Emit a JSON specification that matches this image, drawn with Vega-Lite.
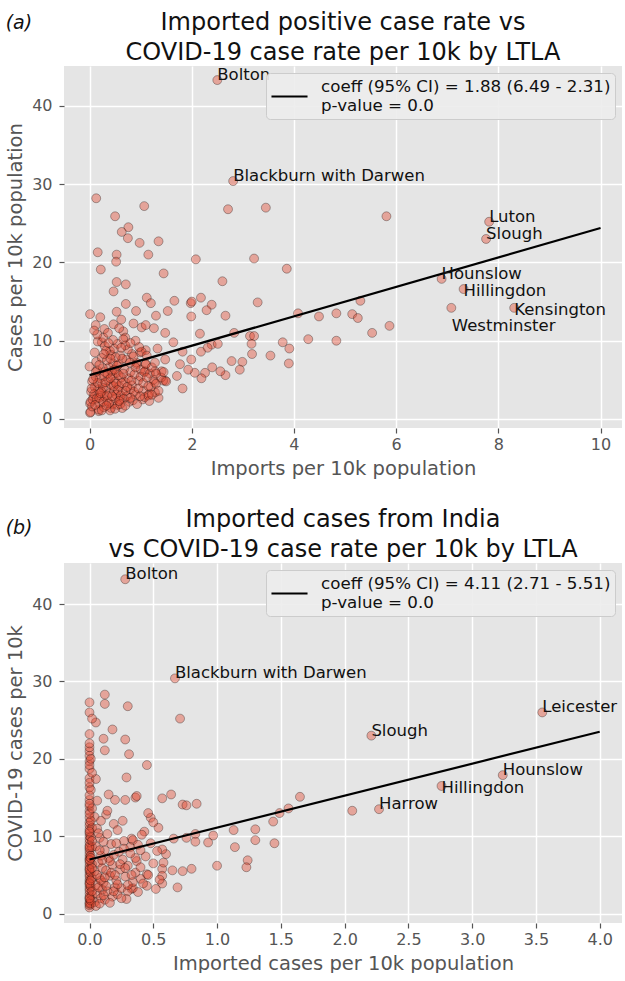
{
  "$schema": "https://vega.github.io/schema/vega-lite/v6.json",
  "padding": {"left": 5, "top": 11, "right": 0, "bottom": 0},
  "background": "white",
  "config": {
    "font": "DejaVu Sans",
    "view": {"fill": "#E5E5E5", "stroke": null},
    "axis": {"domain": false, "grid": true, "gridColor": "#FFFFFF", "gridWidth": 1.5, "gridOpacity": 1, "tickColor": "#555555", "tickSize": 5, "tickWidth": 1.2, "labelColor": "#555555", "labelFontSize": 16, "labelFont": "DejaVu Sans", "titleColor": "#555555", "titleFontSize": 19.5, "titleFontWeight": "normal", "titleFont": "DejaVu Sans", "labelFlush": false},
    "axisX": {"labelPadding": 3, "titlePadding": 7},
    "axisY": {"labelPadding": 7, "titlePadding": 6},
    "title": {"font": "DejaVu Sans", "fontSize": 24, "fontWeight": "normal", "color": "#111111", "lineHeight": 30, "offset": 1},
    "concat": {"spacing": 30}
  },
  "resolve": {"scale": {"color": "independent"}, "legend": {"color": "independent"}},
  "datasets": {
    "ptsA": [
      {"x":2.5,"y":43.3},{"x":2.81,"y":30.4},{"x":7.82,"y":25.2},{"x":7.76,"y":23.0},{"x":6.89,"y":17.9},{"x":7.32,"y":16.6},{"x":8.31,"y":14.2},{"x":7.08,"y":14.2},
      {"x":5.81,"y":25.9},{"x":4.49,"y":13.1},{"x":4.83,"y":13.5},{"x":5.14,"y":13.4},{"x":5.25,"y":12.9},{"x":5.3,"y":15.1},{"x":5.53,"y":11.0},{"x":5.87,"y":11.9},{"x":4.28,"y":10.2},{"x":4.83,"y":10.0},{"x":4.08,"y":13.5},
      {"x":0.13,"y":28.2},{"x":1.07,"y":27.2},{"x":0.5,"y":25.9},{"x":2.71,"y":26.8},{"x":3.45,"y":27.0},{"x":0.76,"y":24.5},{"x":0.63,"y":23.9},{"x":0.75,"y":23.1},{"x":0.98,"y":22.5},{"x":1.35,"y":22.7},
      {"x":0.16,"y":21.3},{"x":0.53,"y":21.0},{"x":1.15,"y":21.0},{"x":0.52,"y":20.1},{"x":0.22,"y":19.1},{"x":2.08,"y":20.4},{"x":3.22,"y":20.5},{"x":3.86,"y":19.2},{"x":1.45,"y":18.6},{"x":0.53,"y":17.5},
      {"x":0.71,"y":17.2},{"x":2.6,"y":17.6},{"x":0.47,"y":16.3},{"x":1.12,"y":15.5},{"x":1.2,"y":14.8},{"x":1.66,"y":15.1},{"x":1.98,"y":14.8},{"x":2.0,"y":15.0},{"x":2.18,"y":15.5},{"x":2.39,"y":14.6},
      {"x":2.29,"y":13.9},{"x":3.29,"y":14.9},{"x":0.71,"y":14.7},{"x":0.53,"y":13.7},{"x":0.91,"y":13.8},{"x":1.3,"y":13.2},{"x":1.53,"y":13.8},{"x":0.01,"y":13.4},{"x":0.21,"y":13.0},{"x":1.99,"y":13.1},
      {"x":2.66,"y":13.2},{"x":0.12,"y":12.0},{"x":0.29,"y":11.5},{"x":0.47,"y":12.1},{"x":0.86,"y":12.2},{"x":1.02,"y":11.7},{"x":1.1,"y":12.0},{"x":1.26,"y":11.6},{"x":1.48,"y":11.0},{"x":1.64,"y":9.8},
      {"x":2.16,"y":10.9},{"x":2.83,"y":11.0},{"x":3.14,"y":10.6},{"x":3.22,"y":10.6},{"x":3.17,"y":9.6},{"x":3.78,"y":9.8},{"x":3.91,"y":9.0},{"x":2.39,"y":9.5},{"x":2.51,"y":9.6},{"x":2.31,"y":9.1},
      {"x":1.82,"y":8.6},{"x":2.18,"y":8.6},{"x":3.18,"y":8.3},{"x":3.54,"y":8.1},{"x":2.78,"y":7.4},{"x":2.99,"y":7.3},{"x":3.9,"y":7.1},{"x":2.94,"y":6.3},{"x":2.66,"y":5.6},{"x":2.56,"y":6.1},
      {"x":2.4,"y":6.6},{"x":2.26,"y":5.9},{"x":2.19,"y":5.2},{"x":2.06,"y":5.9},{"x":1.99,"y":7.6},{"x":1.82,"y":3.9},{"x":1.93,"y":6.3},{"x":1.71,"y":5.5},{"x":1.77,"y":7.0},{"x":1.48,"y":7.6},
      {"x":1.35,"y":2.7},{"x":1.28,"y":3.4},{"x":1.48,"y":4.9},{"x":1.41,"y":6.1},{"x":0.0,"y":6.7},{"x":0.01,"y":1.96},{"x":0.01,"y":0.8},{"x":0.18,"y":1.0},{"x":0.42,"y":1.4},{"x":1.04,"y":2.5},
      {"x":1.17,"y":3.2},{"x":0.24,"y":9.8},{"x":0.66,"y":11.2},{"x":0.7,"y":10.4},{"x":0.4,"y":8.7},{"x":0.83,"y":8.3},{"x":0.99,"y":8.5},{"x":1.1,"y":8.8},{"x":0.92,"y":7.0},{"x":1.1,"y":7.0},
      {"x":1.09,"y":6.1},{"x":1.28,"y":6.1},{"x":1.44,"y":4.9},{"x":1.27,"y":4.7},
      {"x":0.02,"y":0.9},{"x":0.05,"y":1.6},{"x":0.02,"y":2.2},{"x":0.08,"y":2.8},{"x":0.03,"y":3.5},{"x":0.1,"y":4.1},{"x":0.05,"y":4.8},{"x":0.12,"y":5.4},{"x":0.15,"y":6.2},{"x":0.18,"y":1.2},
      {"x":0.2,"y":2.0},{"x":0.22,"y":3.0},{"x":0.17,"y":3.8},{"x":0.25,"y":4.5},{"x":0.2,"y":5.2},{"x":0.13,"y":7.3},{"x":0.24,"y":7.8},{"x":0.1,"y":8.5},{"x":0.3,"y":9.3},{"x":0.16,"y":9.9},
      {"x":0.28,"y":1.5},{"x":0.35,"y":2.3},{"x":0.3,"y":2.9},{"x":0.4,"y":3.3},{"x":0.33,"y":3.9},{"x":0.42,"y":4.4},{"x":0.37,"y":5.0},{"x":0.45,"y":5.6},{"x":0.3,"y":6.0},{"x":0.38,"y":6.6},
      {"x":0.46,"y":7.1},{"x":0.34,"y":7.5},{"x":0.42,"y":8.2},{"x":0.48,"y":9.0},{"x":0.27,"y":10.4},{"x":0.36,"y":11.0},{"x":0.45,"y":1.9},{"x":0.5,"y":2.6},{"x":0.48,"y":3.6},{"x":0.26,"y":4.0},
      {"x":0.29,"y":5.5},{"x":0.44,"y":6.1},{"x":0.4,"y":1.1},{"x":0.32,"y":8.7},{"x":0.5,"y":4.8},
      {"x":0.55,"y":1.8},{"x":0.6,"y":2.5},{"x":0.52,"y":3.1},{"x":0.65,"y":3.5},{"x":0.58,"y":4.2},{"x":0.7,"y":4.7},{"x":0.62,"y":5.3},{"x":0.53,"y":5.9},{"x":0.68,"y":6.4},{"x":0.57,"y":7.0},
      {"x":0.72,"y":7.6},{"x":0.6,"y":8.1},{"x":0.75,"y":8.9},{"x":0.55,"y":9.6},{"x":0.66,"y":10.2},{"x":0.78,"y":2.2},{"x":0.73,"y":2.9},{"x":0.8,"y":3.8},{"x":0.76,"y":5.2},{"x":0.8,"y":6.0},
      {"x":0.64,"y":1.4},{"x":0.7,"y":9.4},{"x":0.58,"y":11.6},{"x":0.62,"y":12.7},
      {"x":0.85,"y":2.4},{"x":0.9,"y":3.1},{"x":0.83,"y":4.3},{"x":0.95,"y":4.9},{"x":0.88,"y":5.7},{"x":1.0,"y":6.3},{"x":0.92,"y":7.2},{"x":0.86,"y":8.0},{"x":1.02,"y":8.6},{"x":0.97,"y":9.2},
      {"x":1.05,"y":3.6},{"x":1.08,"y":2.8},{"x":1.0,"y":5.4},{"x":0.9,"y":10.0},{"x":1.1,"y":7.0},{"x":1.07,"y":6.0},{"x":0.93,"y":1.9},
      {"x":1.15,"y":3.0},{"x":1.2,"y":4.1},{"x":1.25,"y":5.0},{"x":1.18,"y":5.8},{"x":1.3,"y":4.5},{"x":1.35,"y":3.6},{"x":1.22,"y":6.6},{"x":1.4,"y":5.3},{"x":1.28,"y":7.2},{"x":1.45,"y":6.0},
      {"x":1.12,"y":8.1},{"x":1.33,"y":9.0},{"x":1.5,"y":4.8},{"x":1.17,"y":2.3},
      {"x":0.06,"y":2.5},{"x":0.09,"y":3.2},{"x":0.14,"y":2.6},{"x":0.11,"y":1.8},{"x":0.19,"y":2.7},{"x":0.23,"y":3.5},{"x":0.27,"y":2.2},{"x":0.16,"y":4.6},{"x":0.21,"y":3.3},{"x":0.31,"y":4.7},
      {"x":0.34,"y":3.0},{"x":0.38,"y":2.0},{"x":0.26,"y":6.5},{"x":0.19,"y":6.9},{"x":0.35,"y":5.8},{"x":0.41,"y":5.2},{"x":0.47,"y":4.2},{"x":0.52,"y":4.5},{"x":0.56,"y":3.7},{"x":0.61,"y":3.0},
      {"x":0.67,"y":2.6},{"x":0.71,"y":3.6},{"x":0.63,"y":4.6},{"x":0.57,"y":5.6},{"x":0.49,"y":6.3},{"x":0.54,"y":6.8},{"x":0.66,"y":5.8},{"x":0.74,"y":4.1},{"x":0.82,"y":4.9},{"x":0.87,"y":3.5},
      {"x":0.96,"y":3.9},{"x":0.9,"y":6.6},{"x":0.79,"y":7.2},{"x":0.64,"y":7.7},{"x":0.51,"y":7.9},{"x":0.41,"y":7.7},{"x":0.28,"y":8.3},{"x":0.12,"y":6.0},{"x":0.07,"y":5.1},{"x":0.04,"y":3.9},
      {"x":0.24,"y":1.1},{"x":0.33,"y":1.7},{"x":0.5,"y":1.3},{"x":0.6,"y":1.9},{"x":0.7,"y":1.7},{"x":0.8,"y":2.7},{"x":0.99,"y":2.9},{"x":1.05,"y":4.6},{"x":1.12,"y":5.3},{"x":1.15,"y":4.2},
      {"x":1.22,"y":3.1},{"x":1.3,"y":5.8},{"x":0.46,"y":10.1},{"x":0.37,"y":9.7},{"x":0.62,"y":9.1},{"x":0.8,"y":9.7},{"x":0.15,"y":10.8},{"x":0.09,"y":11.3},{"x":0.44,"y":2.9},{"x":0.58,"y":2.3}
    ],
    "lineA": [
      {"x":0,"y":5.6,"fit":"coeff (95% CI) = 1.88 (6.49 - 2.31)|\u00a0p-value = 0.0"},
      {"x":10,"y":24.4,"fit":"coeff (95% CI) = 1.88 (6.49 - 2.31)|\u00a0p-value = 0.0"}
    ],
    "labA": [
      {"x":2.5,"y":43.3,"label":"Bolton"},
      {"x":2.81,"y":30.4,"label":"Blackburn with Darwen"},
      {"x":7.82,"y":25.2,"label":"Luton"},
      {"x":7.76,"y":23.0,"label":"Slough"},
      {"x":6.89,"y":17.9,"label":"Hounslow"},
      {"x":7.32,"y":15.7,"label":"Hillingdon"},
      {"x":8.31,"y":13.3,"label":"Kensington"},
      {"x":7.09,"y":11.25,"label":"Westminster"}
    ],
    "ptsB": [
      {"x":0.28,"y":43.2},{"x":0.67,"y":30.4},{"x":3.55,"y":26.0},{"x":2.21,"y":23.0},{"x":3.24,"y":17.9},{"x":2.76,"y":16.5},{"x":2.27,"y":13.5},
      {"x":2.06,"y":13.3},{"x":1.65,"y":15.1},{"x":1.56,"y":13.6},{"x":1.49,"y":13.0},{"x":1.44,"y":11.9},{"x":1.3,"y":10.9},{"x":1.3,"y":9.5},{"x":1.13,"y":10.8},{"x":0.97,"y":10.1},
      {"x":0.93,"y":9.2},{"x":0.83,"y":10.3},{"x":0.83,"y":9.3},{"x":0.76,"y":9.8},{"x":0.66,"y":9.7},{"x":1.14,"y":8.6},{"x":1.45,"y":9.1},{"x":1.24,"y":6.9},{"x":1.23,"y":6.0},{"x":1.0,"y":6.2},
      {"x":0.8,"y":5.8},{"x":0.73,"y":5.5},{"x":0.65,"y":5.6},{"x":0.57,"y":5.8},{"x":0.57,"y":4.9},{"x":0.57,"y":3.9},{"x":0.69,"y":3.4},{"x":0.6,"y":7.7},{"x":0.57,"y":8.3},{"x":0.54,"y":11.1},
      {"x":0.48,"y":12.4},{"x":0.5,"y":11.8},{"x":0.46,"y":13.0},{"x":0.43,"y":10.6},{"x":0.33,"y":9.7},{"x":0.34,"y":9.5},{"x":0.37,"y":6.8},{"x":0.45,"y":5.1},{"x":0.33,"y":3.2},{"x":0.34,"y":3.3},
      {"x":0.45,"y":3.6},{"x":0.4,"y":4.5},
      {"x":0.12,"y":28.3},{"x":0.12,"y":27.1},{"x":0.3,"y":26.8},{"x":0.71,"y":25.2},{"x":0.18,"y":23.8},{"x":0.11,"y":22.6},{"x":0.28,"y":22.5},{"x":0.12,"y":21.1},{"x":0.31,"y":20.6},{"x":0.45,"y":19.2},
      {"x":0.29,"y":17.6},{"x":0.15,"y":15.4},{"x":0.2,"y":14.7},{"x":0.28,"y":14.7},{"x":0.36,"y":15.0},{"x":0.37,"y":15.2},{"x":0.57,"y":14.9},{"x":0.64,"y":15.4},{"x":0.73,"y":14.1},{"x":0.76,"y":14.0},
      {"x":0.84,"y":14.2},
      {"x":0,"y":0.8},{"x":0,"y":1.1},{"x":0,"y":1.5},{"x":0,"y":1.9},{"x":0,"y":2.2},{"x":0,"y":2.6},{"x":0,"y":3.0},{"x":0,"y":3.3},{"x":0,"y":3.7},{"x":0,"y":4.1},
      {"x":0,"y":4.4},{"x":0,"y":4.8},{"x":0,"y":5.1},{"x":0,"y":5.5},{"x":0,"y":5.9},{"x":0,"y":6.2},{"x":0,"y":6.6},{"x":0,"y":7.0},{"x":0,"y":7.3},{"x":0,"y":7.7},
      {"x":0,"y":8.1},{"x":0,"y":8.4},{"x":0,"y":8.8},{"x":0,"y":9.2},{"x":0,"y":9.6},{"x":0,"y":10.0},{"x":0,"y":10.4},{"x":0,"y":10.9},{"x":0,"y":11.4},{"x":0,"y":11.8},
      {"x":0,"y":12.4},{"x":0,"y":13.3},{"x":0,"y":13.9},{"x":0,"y":14.7},{"x":0,"y":15.3},{"x":0,"y":16.3},{"x":0,"y":17.5},{"x":0,"y":18.7},{"x":0,"y":19.7},{"x":0,"y":20.4},
      {"x":0,"y":21.0},{"x":0,"y":21.5},{"x":0,"y":23.2},{"x":0,"y":26.0},{"x":0,"y":27.3},
      {"x":0.01,"y":1.3},{"x":0.02,"y":2.4},{"x":0.01,"y":3.5},{"x":0.02,"y":4.6},{"x":0.01,"y":5.3},{"x":0.02,"y":6.4},{"x":0.01,"y":7.5},{"x":0.02,"y":8.6},{"x":0.01,"y":9.9},{"x":0.02,"y":11.1},
      {"x":0.04,"y":1.5},{"x":0.06,"y":2.6},{"x":0.05,"y":3.7},{"x":0.08,"y":4.6},{"x":0.04,"y":5.5},{"x":0.07,"y":6.6},{"x":0.09,"y":7.5},{"x":0.05,"y":8.7},{"x":0.08,"y":9.8},{"x":0.06,"y":11.0},
      {"x":0.04,"y":12.5},{"x":0.1,"y":3.1},{"x":0.1,"y":5.9},{"x":0.09,"y":2.0},{"x":0.05,"y":24.7},{"x":0.05,"y":17.4},{"x":0.06,"y":14.6},
      {"x":0.12,"y":1.8},{"x":0.14,"y":2.9},{"x":0.11,"y":4.0},{"x":0.16,"y":4.9},{"x":0.13,"y":5.6},{"x":0.18,"y":6.3},{"x":0.15,"y":7.2},{"x":0.12,"y":8.2},{"x":0.17,"y":9.0},{"x":0.14,"y":10.3},
      {"x":0.19,"y":11.6},{"x":0.2,"y":3.4},{"x":0.18,"y":2.2},{"x":0.13,"y":12.8},{"x":0.16,"y":6.8},
      {"x":0.22,"y":2.5},{"x":0.25,"y":3.3},{"x":0.21,"y":4.3},{"x":0.28,"y":4.8},{"x":0.24,"y":5.7},{"x":0.3,"y":6.2},{"x":0.26,"y":7.0},{"x":0.23,"y":8.0},{"x":0.32,"y":8.6},{"x":0.27,"y":9.4},
      {"x":0.22,"y":10.8},{"x":0.3,"y":2.9},{"x":0.34,"y":4.1},{"x":0.26,"y":12.0},{"x":0.29,"y":1.9},
      {"x":0.38,"y":2.8},{"x":0.42,"y":3.9},{"x":0.36,"y":5.3},{"x":0.46,"y":5.0},{"x":0.4,"y":6.0},{"x":0.5,"y":6.5},{"x":0.44,"y":7.4},{"x":0.53,"y":8.1},{"x":0.38,"y":8.9},{"x":0.48,"y":9.1},
      {"x":0.55,"y":4.4},{"x":0.52,"y":3.2},{"x":0.41,"y":10.2},{"x":0.58,"y":6.6},
      {"x":0,"y":1.3},{"x":0.01,"y":1.7},{"x":0,"y":2.0},{"x":0.02,"y":2.9},{"x":0,"y":3.9},{"x":0.01,"y":4.3},{"x":0,"y":5.7},{"x":0.02,"y":5.9},{"x":0,"y":6.9},{"x":0.01,"y":7.2},
      {"x":0,"y":8.6},{"x":0.02,"y":9.4},{"x":0,"y":10.6},{"x":0.01,"y":12.0},{"x":0,"y":12.9},{"x":0.02,"y":13.6},{"x":0,"y":14.2},{"x":0.01,"y":16.0},{"x":0,"y":16.9},{"x":0.02,"y":18.2},
      {"x":0,"y":19.2},{"x":0.01,"y":20.0},{"x":0,"y":22.0},{"x":0.02,"y":25.2},
      {"x":0.05,"y":1.0},{"x":0.08,"y":1.3},{"x":0.11,"y":2.4},{"x":0.07,"y":3.4},{"x":0.13,"y":3.6},{"x":0.09,"y":4.3},{"x":0.06,"y":5.0},{"x":0.12,"y":4.7},{"x":0.1,"y":6.9},{"x":0.08,"y":8.2},
      {"x":0.11,"y":9.3},{"x":0.07,"y":10.4},{"x":0.16,"y":1.4},{"x":0.19,"y":2.9},{"x":0.22,"y":3.8},{"x":0.17,"y":5.3},{"x":0.2,"y":5.0},{"x":0.24,"y":6.4},{"x":0.19,"y":7.6},{"x":0.27,"y":8.4},
      {"x":0.21,"y":9.1},{"x":0.25,"y":2.0},{"x":0.3,"y":3.7},{"x":0.33,"y":5.0},{"x":0.28,"y":5.9},{"x":0.36,"y":7.2},{"x":0.32,"y":7.8},{"x":0.4,"y":8.2},{"x":0.14,"y":13.3},{"x":0.09,"y":12.0}
    ],
    "lineB": [
      {"x":0,"y":7.0,"fit":"coeff (95% CI) = 4.11 (2.71 - 5.51)|\u00a0p-value = 0.0"},
      {"x":4,"y":23.5,"fit":"coeff (95% CI) = 4.11 (2.71 - 5.51)|\u00a0p-value = 0.0"}
    ],
    "labB": [
      {"x":0.28,"y":43.2,"label":"Bolton"},
      {"x":0.67,"y":30.4,"label":"Blackburn with Darwen"},
      {"x":3.55,"y":26.0,"label":"Leicester"},
      {"x":2.21,"y":23.0,"label":"Slough"},
      {"x":3.24,"y":17.9,"label":"Hounslow"},
      {"x":2.76,"y":15.6,"label":"Hillingdon"},
      {"x":2.27,"y":13.5,"label":"Harrow"}
    ]
  },
  "vconcat": [
    {
      "title": {"text": "(a)", "anchor": "start", "frame": "bounds", "fontSize": 19, "fontStyle": "italic", "color": "#111111", "dy": 23},
      "resolve": {"scale": {"color": "independent"}, "legend": {"color": "independent"}},
      "vconcat": [
        {
          "width": 558,
          "height": 362,
          "title": {"text": ["Imported positive case rate vs", "COVID-19 case rate per 10k by LTLA"]},
          "layer": [
            {
              "data": {"name": "ptsA"},
              "mark": {"type": "circle", "size": 80, "fill": "#E24A33", "fillOpacity": 0.42, "stroke": "#000000", "strokeOpacity": 0.3, "strokeWidth": 1},
              "encoding": {
                "x": {"field": "x", "type": "quantitative", "scale": {"domain": [-0.5, 10.42], "nice": false, "zero": false}, "axis": {"values": [0, 2, 4, 6, 8, 10], "title": "Imports per 10k population"}},
                "y": {"field": "y", "type": "quantitative", "scale": {"domain": [-1.15, 45.1], "nice": false, "zero": false}, "axis": {"values": [0, 10, 20, 30, 40], "title": "Cases per 10k population"}}
              }
            },
            {
              "data": {"name": "lineA"},
              "mark": {"type": "line", "strokeWidth": 2.2},
              "encoding": {
                "x": {"field": "x", "type": "quantitative"},
                "y": {"field": "y", "type": "quantitative"},
                "color": {"field": "fit", "type": "nominal", "scale": {"range": ["#000000"]},
                  "legend": {"title": null, "orient": "top-right", "offset": 7, "labelExpr": "split(datum.label, '|')", "symbolType": "stroke", "symbolSize": 1300, "symbolStrokeWidth": 2.2, "symbolStrokeColor": "#000000", "labelFontSize": 16.7, "labelFont": "DejaVu Sans", "labelColor": "#111111", "labelLimit": 0, "labelOffset": 12, "fillColor": "rgba(236,236,236,0.9)", "strokeColor": "#CCCCCC", "cornerRadius": 4, "padding": 4,
                    "encode": {"labels": {"update": {"dy": {"value": -9.25}, "lineHeight": {"value": 18.5}}}}}}
              }
            },
            {
              "data": {"name": "labA"},
              "mark": {"type": "text", "align": "left", "baseline": "alphabetic", "fontSize": 16.5, "font": "DejaVu Sans", "color": "#111111"},
              "encoding": {
                "x": {"field": "x", "type": "quantitative"},
                "y": {"field": "y", "type": "quantitative"},
                "text": {"field": "label"}
              }
            }
          ]
        }
      ]
    },
    {
      "title": {"text": "(b)", "anchor": "start", "frame": "bounds", "fontSize": 19, "fontStyle": "italic", "color": "#111111", "dy": 31},
      "resolve": {"scale": {"color": "independent"}, "legend": {"color": "independent"}},
      "vconcat": [
        {
          "width": 558,
          "height": 360,
          "title": {"text": ["Imported cases from India", "vs COVID-19 case rate per 10k by LTLA"]},
          "layer": [
            {
              "data": {"name": "ptsB"},
              "mark": {"type": "circle", "size": 80, "fill": "#E24A33", "fillOpacity": 0.42, "stroke": "#000000", "strokeOpacity": 0.3, "strokeWidth": 1},
              "encoding": {
                "x": {"field": "x", "type": "quantitative", "scale": {"domain": [-0.2, 4.175], "nice": false, "zero": false}, "axis": {"values": [0, 0.5, 1, 1.5, 2, 2.5, 3, 3.5, 4], "format": ".1f", "title": "Imported cases per 10k population"}},
                "y": {"field": "y", "type": "quantitative", "scale": {"domain": [-1.2, 45.3], "nice": false, "zero": false}, "axis": {"values": [0, 10, 20, 30, 40], "title": "COVID-19 cases per 10k"}}
              }
            },
            {
              "data": {"name": "lineB"},
              "mark": {"type": "line", "strokeWidth": 2.2},
              "encoding": {
                "x": {"field": "x", "type": "quantitative"},
                "y": {"field": "y", "type": "quantitative"},
                "color": {"field": "fit", "type": "nominal", "scale": {"range": ["#000000"]},
                  "legend": {"title": null, "orient": "top-right", "offset": 7, "labelExpr": "split(datum.label, '|')", "symbolType": "stroke", "symbolSize": 1300, "symbolStrokeWidth": 2.2, "symbolStrokeColor": "#000000", "labelFontSize": 16.7, "labelFont": "DejaVu Sans", "labelColor": "#111111", "labelLimit": 0, "labelOffset": 12, "fillColor": "rgba(236,236,236,0.9)", "strokeColor": "#CCCCCC", "cornerRadius": 4, "padding": 4,
                    "encode": {"labels": {"update": {"dy": {"value": -9.25}, "lineHeight": {"value": 18.5}}}}}}
              }
            },
            {
              "data": {"name": "labB"},
              "mark": {"type": "text", "align": "left", "baseline": "alphabetic", "fontSize": 16.5, "font": "DejaVu Sans", "color": "#111111"},
              "encoding": {
                "x": {"field": "x", "type": "quantitative"},
                "y": {"field": "y", "type": "quantitative"},
                "text": {"field": "label"}
              }
            }
          ]
        }
      ]
    }
  ]
}
